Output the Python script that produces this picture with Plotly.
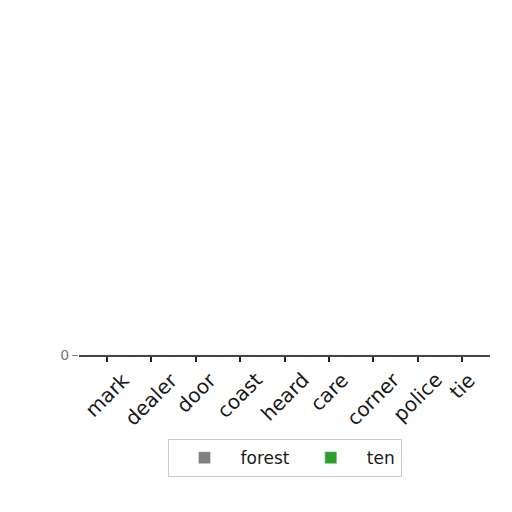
import plotly.graph_objects as go

categories = ["mark", "dealer", "door", "coast", "heard", "care", "corner", "police", "tie"]
forest = [0, 0, 0, 0, 0, 0, 0, 0, 0]
ten = [0, 0, 0, 0, 0, 0, 0, 0, 0]

fig = go.Figure()
fig.add_trace(go.Bar(name="forest", x=categories, y=forest, marker_color="#808080"))
fig.add_trace(go.Bar(name="ten", x=categories, y=ten, marker_color="#2ca02c"))

for c in categories:
    fig.add_annotation(x=c, xref="x", y=0, yref="paper", text=c, showarrow=False,
                       textangle=-45, xanchor="center", yanchor="top", yshift=-10,
                       font=dict(family="DejaVu Sans", size=20, color="#1a1a1a"))

fig.update_layout(
    width=512, height=512,
    paper_bgcolor="white", plot_bgcolor="white",
    barmode="group",
    margin=dict(l=71, r=30, t=343, b=165, autoexpand=False),
    font=dict(family="DejaVu Sans", color="#222222"),
    showlegend=True,
    legend=dict(orientation="h", x=0.5, xanchor="center", y=0.158, yanchor="top",
                yref="container", itemwidth=62,
                bordercolor="#cccccc", borderwidth=1, bgcolor="white",
                font=dict(size=17, color="#1a1a1a")),
    xaxis=dict(range=[-0.63, 8.63], showticklabels=False, ticks="outside", ticklen=5,
               tickwidth=1.5, tickcolor="#222222", showline=True, linecolor="#444444",
               linewidth=1.5, showgrid=False),
    yaxis=dict(range=[0, 1], tickvals=[0], ticktext=["0"], ticks="outside", ticklen=6,
               tickcolor="#888888", showline=False, showgrid=False, zeroline=False,
               tickfont=dict(size=14, color="#777777")),
)
fig.write_html("out.html")
